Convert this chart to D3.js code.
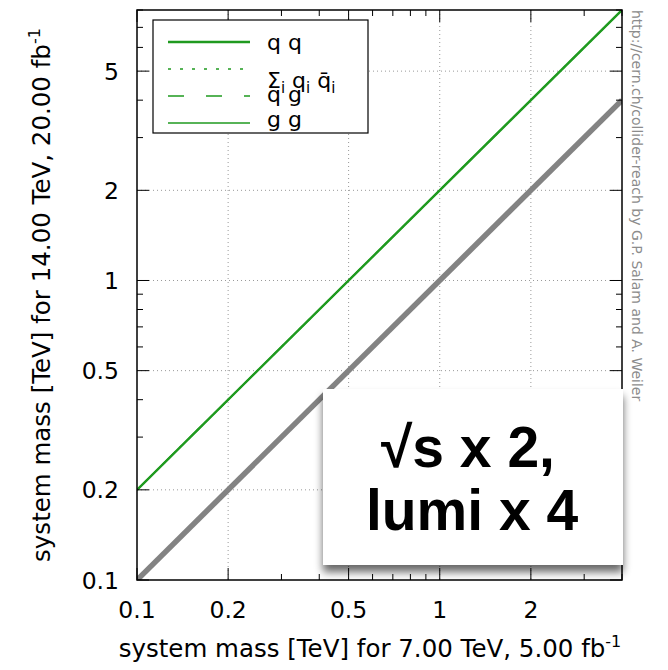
<!DOCTYPE html>
<html>
<head>
<meta charset="utf-8">
<script src="https://cdn.jsdelivr.net/npm/d3@7"></script>
<style>
  body { margin: 0; background: #fff; }
  svg { display: block; font-family: "DejaVu Sans", sans-serif; }
</style>
</head>
<body>
<div id="chart"></div>
<script>
// mass reach at 7 TeV (x) and 14 TeV (y), both in TeV
const mass7 = [0.1, 4];
const massQQ = [0.2, 8];
const massSumQQbar = [0.2, 8];
const massQG = [0.2, 8];
const massGG = [0.2, 8];
const sameMass = [0.1, 4];

const xTicks = [0.1, 0.2, 0.5, 1, 2];
const yTicks = [0.1, 0.2, 0.5, 1, 2, 5];
const xMinor = [0.3, 0.4, 0.6, 0.7, 0.8, 0.9, 3, 4];
const yMinor = [0.3, 0.4, 0.6, 0.7, 0.8, 0.9, 3, 4, 6, 7, 8];

const w = 668, h = 670;
const m = { left: 137, right: 622, top: 10, bottom: 580 };

const svg = d3.select("#chart").append("svg").attr("width", w).attr("height", h);

const x = d3.scaleLog().domain([0.1, 4]).range([m.left, m.right]);
const y = d3.scaleLog().domain([0.1, 8]).range([m.bottom, m.top]);

const defs = svg.append("defs");
defs.append("clipPath").attr("id", "plot").append("rect")
  .attr("x", m.left).attr("y", m.top)
  .attr("width", m.right - m.left).attr("height", m.bottom - m.top);

// grid
const grid = svg.append("g").attr("stroke", "#999").attr("stroke-width", 1).attr("stroke-dasharray", "1,3");
grid.selectAll(".gx").data(xTicks.slice(1)).enter().append("line")
  .attr("x1", d => x(d)).attr("x2", d => x(d)).attr("y1", m.top).attr("y2", m.bottom);
grid.selectAll(".gy").data(yTicks.slice(1)).enter().append("line")
  .attr("y1", d => y(d)).attr("y2", d => y(d)).attr("x1", m.left).attr("x2", m.right);

// lines
const line = d3.line().x(d => x(d[0])).y(d => y(d[1]));
const plot = svg.append("g").attr("clip-path", "url(#plot)");
plot.append("path").datum(d3.zip(mass7, sameMass)).attr("d", line)
  .attr("stroke", "#838383").attr("stroke-width", 5.5).attr("fill", "none");
const green = "#1f9a1f";
[
  { v: massGG, w: 1.5, dash: null },
  { v: massQG, w: 1.5, dash: "16,22" },
  { v: massSumQQbar, w: 1.5, dash: "3,9" },
  { v: massQQ, w: 2.4, dash: null }
].forEach(s => {
  plot.append("path").datum(d3.zip(mass7, s.v)).attr("d", line)
    .attr("stroke", green).attr("stroke-width", s.w).attr("fill", "none")
    .attr("stroke-dasharray", s.dash);
});

// ticks (inside, all four sides)
const ticks = svg.append("g").attr("stroke", "#000").attr("stroke-width", 1);
const tk = (vals, len) => {
  vals.forEach(v => {
    ticks.append("line").attr("x1", x(v)).attr("x2", x(v)).attr("y1", m.bottom).attr("y2", m.bottom - len);
    ticks.append("line").attr("x1", x(v)).attr("x2", x(v)).attr("y1", m.top).attr("y2", m.top + len);
  });
};
const tky = (vals, len) => {
  vals.forEach(v => {
    ticks.append("line").attr("y1", y(v)).attr("y2", y(v)).attr("x1", m.left).attr("x2", m.left + len);
    ticks.append("line").attr("y1", y(v)).attr("y2", y(v)).attr("x1", m.right).attr("x2", m.right - len);
  });
};
tk(xTicks, 12); tk(xMinor, 6);
tky(yTicks, 12); tky(yMinor, 6);

svg.append("rect").attr("x", m.left).attr("y", m.top)
  .attr("width", m.right - m.left).attr("height", m.bottom - m.top)
  .attr("fill", "none").attr("stroke", "#000").attr("stroke-width", 1.5);

// tick labels
svg.append("g").selectAll("text").data(xTicks).enter().append("text")
  .attr("x", d => x(d)).attr("y", 618).attr("text-anchor", "middle")
  .attr("font-size", 23.5).text(d => d);
svg.append("g").selectAll("text").data(yTicks).enter().append("text")
  .attr("x", 119).attr("y", d => y(d) + 8.5).attr("text-anchor", "end")
  .attr("font-size", 23.5).text(d => d);

// axis titles
const xt = svg.append("text").attr("x", 370).attr("y", 657).attr("text-anchor", "middle")
  .attr("font-size", 24.5).text("system mass [TeV] for 7.00 TeV, 5.00 fb");
xt.append("tspan").attr("dy", -10).attr("font-size", 16).text("-1");
const yt = svg.append("text").attr("transform", "translate(50,295) rotate(-90)")
  .attr("text-anchor", "middle").attr("font-size", 24.5)
  .text("system mass [TeV] for 14.00 TeV, 20.00 fb");
yt.append("tspan").attr("dy", -10).attr("font-size", 16).text("-1");

// credit
svg.append("text").attr("transform", "translate(632,10) rotate(90)")
  .attr("font-size", 14).attr("fill", "#8c8c8c")
  .text("http://cern.ch/collider-reach by G.P. Salam and A. Weiler");

// legend
const lg = svg.append("g");
lg.append("rect").attr("x", 153).attr("y", 20).attr("width", 215).attr("height", 113)
  .attr("fill", "#fff").attr("stroke", "#000").attr("stroke-width", 1.2);
const legendItems = [
  { y: 42, w: 2.4, dash: null },
  { y: 69, w: 1.5, dash: "3,9" },
  { y: 96, w: 1.5, dash: "16,22" },
  { y: 123, w: 1.5, dash: null }
];
legendItems.forEach(d => {
  lg.append("line").attr("x1", 168).attr("x2", 250).attr("y1", d.y).attr("y2", d.y)
    .attr("stroke", green).attr("stroke-width", d.w).attr("stroke-dasharray", d.dash);
});
lg.append("text").attr("x", 267).attr("y", 50).attr("font-size", 22).text("q q");
const s = lg.append("text").attr("x", 267).attr("y", 88).attr("font-size", 22);
s.append("tspan").text("Σ");
s.append("tspan").attr("font-size", 15).attr("dy", 5).text("i");
s.append("tspan").attr("dy", -5).text(" q");
s.append("tspan").attr("font-size", 15).attr("dy", 5).text("i");
s.append("tspan").attr("dy", -5).text(" q̄");
s.append("tspan").attr("font-size", 15).attr("dy", 5).text("i");
lg.append("text").attr("x", 267).attr("y", 102).attr("font-size", 22).text("q g");
lg.append("text").attr("x", 267).attr("y", 127).attr("font-size", 22).text("g g");

// overlay box
const f = defs.append("filter").attr("id", "shadow").attr("x", "-10%").attr("y", "-10%")
  .attr("width", "120%").attr("height", "130%");
f.append("feGaussianBlur").attr("in", "SourceAlpha").attr("stdDeviation", 4);
f.append("feOffset").attr("dy", 7).attr("result", "b");
f.append("feComponentTransfer").append("feFuncA").attr("type", "linear").attr("slope", 0.6);
const mg = f.append("feMerge");
mg.append("feMergeNode");
mg.append("feMergeNode").attr("in", "SourceGraphic");

svg.append("rect").attr("x", 323).attr("y", 389).attr("width", 300).attr("height", 176)
  .attr("fill", "#fff").attr("filter", "url(#shadow)");
svg.append("text").attr("x", 468).attr("y", 467).attr("text-anchor", "middle")
  .attr("font-family", "Liberation Sans, Arial, sans-serif").attr("font-weight", "bold")
  .attr("font-size", 57).text("√s x 2,");
svg.append("text").attr("x", 472).attr("y", 530).attr("text-anchor", "middle")
  .attr("font-family", "Liberation Sans, Arial, sans-serif").attr("font-weight", "bold")
  .attr("font-size", 57).text("lumi x 4");
</script>
</body>
</html>
